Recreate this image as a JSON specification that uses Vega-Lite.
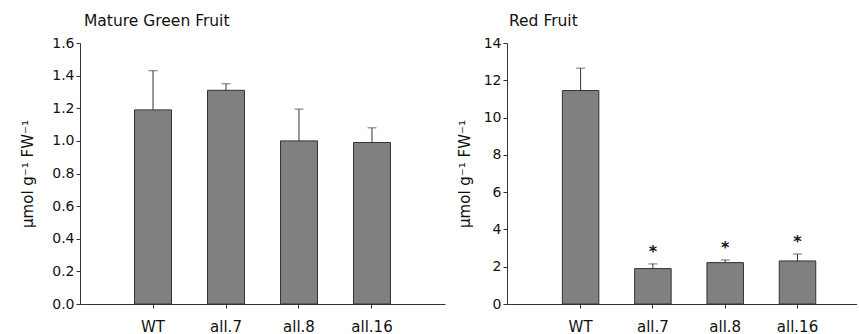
{
  "$schema": "https://vega.github.io/schema/vega-lite/v6.json",
  "padding": {"left": 20, "top": 13, "right": 0, "bottom": 0},
  "background": "white",
  "config": {
    "view": {"stroke": null},
    "font": "DejaVu Sans",
    "axis": {
      "grid": false,
      "domainColor": "#333333",
      "tickColor": "#333333",
      "labelColor": "#111111",
      "titleColor": "#111111",
      "tickSize": 4,
      "labelOverlap": false,
      "labelBound": false,
      "labelFont": "DejaVu Sans",
      "titleFont": "DejaVu Sans",
      "titleFontWeight": "normal"
    },
    "title": {"font": "DejaVu Sans", "fontSize": 15.5, "fontWeight": "normal", "color": "#111111", "anchor": "start", "frame": "group", "baseline": "alphabetic", "offset": 6.7}
  },
  "datasets": {
    "green": [
      {"genotype": "WT", "mean": 1.19, "upper": 1.43, "sig": ""},
      {"genotype": "all.7", "mean": 1.31, "upper": 1.35, "sig": ""},
      {"genotype": "all.8", "mean": 1.0, "upper": 1.195, "sig": ""},
      {"genotype": "all.16", "mean": 0.99, "upper": 1.08, "sig": ""}
    ],
    "red": [
      {"genotype": "WT", "mean": 11.45, "upper": 12.65, "sig": ""},
      {"genotype": "all.7", "mean": 1.9, "upper": 2.15, "sig": "*"},
      {"genotype": "all.8", "mean": 2.22, "upper": 2.36, "sig": "*"},
      {"genotype": "all.16", "mean": 2.31, "upper": 2.68, "sig": "*"}
    ]
  },
  "spacing": 12,
  "hconcat": [
    {
      "title": {"text": "Mature Green Fruit", "dx": 4},
      "width": 365,
      "height": 261,
      "data": {"name": "green"},
      "encoding": {
        "x": {
          "field": "genotype", "type": "nominal", "sort": null,
          "scale": {"paddingInner": 0.493, "paddingOuter": 0.747},
          "axis": {"title": null, "labelAngle": 0, "labelFontSize": 15, "labelPadding": 11}
        }
      },
      "layer": [
        {
          "mark": {"type": "rule", "color": "#333333", "strokeWidth": 1},
          "encoding": {"y": {"field": "mean", "type": "quantitative"}, "y2": {"field": "upper"}}
        },
        {
          "mark": {"type": "tick", "color": "#333333", "size": 9, "thickness": 1},
          "encoding": {"y": {"field": "upper", "type": "quantitative"}}
        },
        {
          "mark": {"type": "bar", "fill": "#808080", "stroke": "#333333", "strokeWidth": 1},
          "encoding": {
            "y": {
              "field": "mean", "type": "quantitative",
              "scale": {"domain": [0, 1.6], "nice": false},
              "axis": {"values": [0, 0.2, 0.4, 0.6, 0.8, 1.0, 1.2, 1.4, 1.6], "tickCount": 20, "format": ".1f", "labelFontSize": 14, "labelPadding": 2, "title": "μmol g⁻¹ FW⁻¹", "titleFontSize": 15, "titlePadding": 16}
            }
          }
        }
      ]
    },
    {
      "title": {"text": "Red Fruit", "dx": 2},
      "width": 350,
      "height": 261,
      "data": {"name": "red"},
      "encoding": {
        "x": {
          "field": "genotype", "type": "nominal", "sort": null,
          "scale": {"paddingInner": 0.495, "paddingOuter": 0.668, "align": 0.573},
          "axis": {"title": null, "labelAngle": 0, "labelFontSize": 15, "labelPadding": 11}
        }
      },
      "layer": [
        {
          "mark": {"type": "rule", "color": "#333333", "strokeWidth": 1},
          "encoding": {"y": {"field": "mean", "type": "quantitative"}, "y2": {"field": "upper"}}
        },
        {
          "mark": {"type": "tick", "color": "#333333", "size": 9, "thickness": 1},
          "encoding": {"y": {"field": "upper", "type": "quantitative"}}
        },
        {
          "mark": {"type": "bar", "fill": "#808080", "stroke": "#333333", "strokeWidth": 1},
          "encoding": {
            "y": {
              "field": "mean", "type": "quantitative",
              "scale": {"domain": [0, 14], "nice": false},
              "axis": {"values": [0, 2, 4, 6, 8, 10, 12, 14], "tickCount": 20, "format": "d", "labelFontSize": 14, "labelPadding": 2, "title": "μmol g⁻¹ FW⁻¹", "titleFontSize": 15, "titlePadding": 11}
            }
          }
        },
        {
          "mark": {"type": "text", "fontSize": 16, "fontWeight": "bold", "baseline": "bottom", "dy": -4, "color": "#111111"},
          "encoding": {"y": {"field": "upper", "type": "quantitative"}, "text": {"field": "sig"}}
        }
      ]
    }
  ]
}
